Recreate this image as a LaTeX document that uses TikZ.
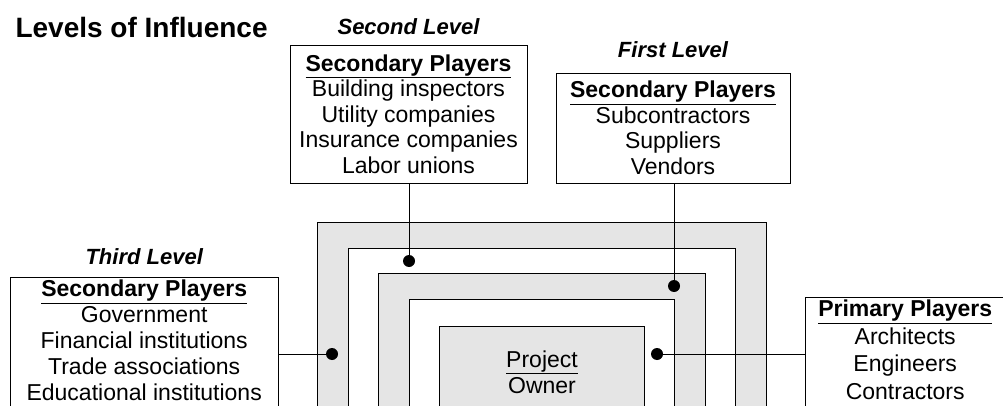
\documentclass[tikz,border=0pt]{standalone}
\usepackage{fontspec}
\setmainfont{Liberation Sans}
\usetikzlibrary{positioning}
\tikzset{
line width=1.5pt,
node distance=12pt,
player/.style={draw, align=center, inner sep=3pt, font=\fontsize{23}{25.5}\selectfont},
level/.style={inner sep=0pt, font=\fontsize{22}{24}\selectfont\bfseries\itshape},
ring/.style={draw, fill=gray!20},
hole/.style={draw, fill=white},
dot/.style={circle, fill, inner sep=0pt, minimum size=12pt},
}
\newcommand{\playerhead}[1]{\textbf{\underline{#1}}}

\begin{document}
\begin{tikzpicture}[x=1pt,y=-1pt]
        \useasboundingbox (0,0) rectangle (1003,406);
        \clip (0,0) rectangle (1003,406);

        % nested levels, outermost first
        \draw[ring] (317,222) rectangle (766,440);
        \draw[hole] (348,248) rectangle (735,440);
        \draw[ring] (378,273) rectangle (705,440);
        \draw[hole] (409,299) rectangle (674,440);
        \draw[ring] (439,326) rectangle (644,440);
        \node[font=\fontsize{23}{26}\selectfont, align=center] (owner) at (542,372) {\underline{Project}\\Owner};

        \node[font=\fontsize{28}{30}\selectfont\bfseries, anchor=base west] (title) at (12,38) {Levels of Influence};

        \node[player, minimum width=237pt, minimum height=138pt] (second) at (408.5,114)
            {\playerhead{Secondary Players}\\Building inspectors\\Utility companies\\Insurance companies\\Labor unions};
        \node[level, above=10pt of second] (secondlbl) {Second Level};

        \node[player, minimum width=234pt, minimum height=110pt] (first) at (673,128)
            {\playerhead{Secondary Players}\\Subcontractors\\Suppliers\\Vendors};
        \node[level, above=15pt of first] (firstlbl) {First Level};

        \node[player, anchor=north west, minimum width=268pt, text depth=160pt, font=\fontsize{23}{26}\selectfont] (third) at (10,277)
            {\playerhead{Secondary Players}\\Government\\Financial institutions\\Trade associations\\Educational institutions};
        \node[level, above=12pt of third] (thirdlbl) {Third Level};

        \node[player, anchor=north west, minimum width=200pt, text depth=140pt, font=\fontsize{23}{27.5}\selectfont] (primary) at (805,297)
            {\playerhead{Primary Players}\\Architects\\Engineers\\Contractors};

        \node[dot] (d2) at (409,261) {};
        \node[dot] (d1) at (674,286) {};
        \node[dot] (d3) at (332,354) {};
        \node[dot] (d0) at (657,354) {};

        \draw (second.south -| d2) -- (d2);
        \draw (first.south -| d1) -- (d1);
        \draw (third.east |- d3) -- (d3);
        \draw (d0) -- (primary.west |- d0);
    \end{tikzpicture}
\end{document}
